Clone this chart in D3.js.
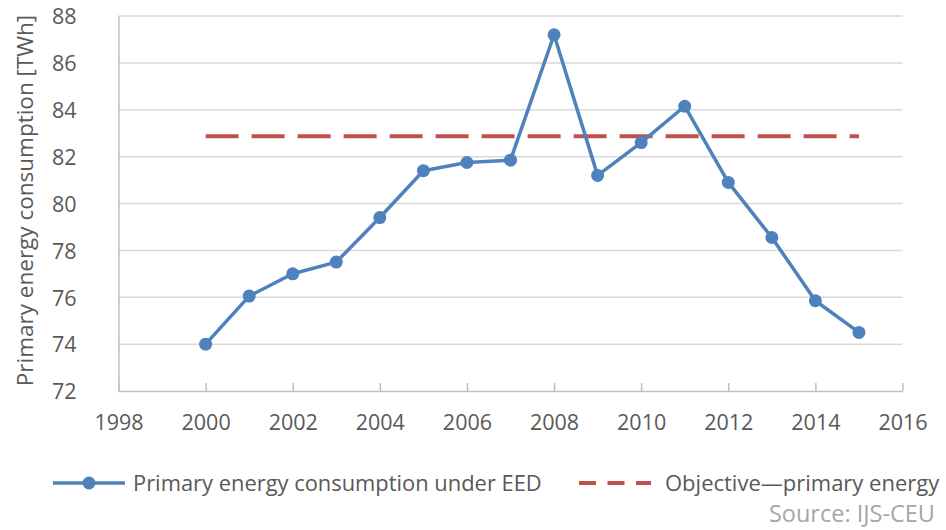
<!DOCTYPE html>
<html>
<head>
<meta charset="utf-8">
<script src="https://cdn.jsdelivr.net/npm/d3@7/dist/d3.min.js"></script>
<style>
  html, body { margin: 0; padding: 0; background: #fff; }
  svg { display: block; font-family: "Open Sans", sans-serif; }
</style>
</head>
<body>
<svg id="chart" width="946" height="530"></svg>
<script>
// Primary energy consumption (TWh) by year
const years = [2000, 2001, 2002, 2003, 2004, 2005, 2006, 2007, 2008, 2009, 2010, 2011, 2012, 2013, 2014, 2015];
const consumption = [74.0, 76.05, 77.0, 77.5, 79.4, 81.4, 81.75, 81.85, 87.2, 81.2, 82.6, 84.15, 80.9, 78.55, 75.85, 74.5];
// Target level for primary energy
const objectiveYears = [2000, 2015];
const objectiveValue = 82.87;

const xTicks = [1998, 2000, 2002, 2004, 2006, 2008, 2010, 2012, 2014, 2016];
const yTicks = [72, 74, 76, 78, 80, 82, 84, 86, 88];

const seriesLabel = "Primary energy consumption under EED";
const objectiveLabel = "Objective\u2014primary energy";
const yTitle = "Primary energy consumption [TWh]";
const sourceText = "Source: IJS-CEU";

const blue = "#4F81BD", red = "#C0504D", textCol = "#595959", gridCol = "#D9D9D9", axisCol = "#BFBFBF";

const svg = d3.select("#chart");
const margin = { left: 118.5, right: 946 - 902.5, top: 16, bottom: 530 - 391 };
const x = d3.scaleLinear().domain([1998, 2016]).range([margin.left, 946 - margin.right]);
const y = d3.scaleLinear().domain([72, 88]).range([530 - margin.bottom, margin.top]);

// horizontal gridlines
svg.append("g").selectAll("line").data(yTicks.filter(d => d > 72)).join("line")
  .attr("x1", x(1998)).attr("x2", x(2016))
  .attr("y1", d => y(d)).attr("y2", d => y(d))
  .attr("stroke", gridCol).attr("stroke-width", 1.5);

// y axis
const yAxis = svg.append("g").attr("transform", `translate(${x(1998)},0)`)
  .call(d3.axisLeft(y).tickValues(yTicks).tickSize(0).tickPadding(42));
yAxis.select(".domain").attr("stroke", axisCol).attr("stroke-width", 1.5);
yAxis.selectAll("text").attr("fill", textCol).style("font-size", "21.5px")
  .style("font-family", "'Open Sans', sans-serif").attr("dy", "0.36em");

// x axis (ticks point up into plot)
const xAxis = svg.append("g").attr("transform", `translate(0,${y(72)})`)
  .call(d3.axisBottom(x).tickValues(xTicks).tickFormat(d3.format("d")).tickSizeInner(-8).tickSizeOuter(0).tickPadding(24));
xAxis.select(".domain").attr("stroke", axisCol).attr("stroke-width", 1.5);
xAxis.selectAll(".tick line").attr("stroke", axisCol).attr("stroke-width", 1.5);
xAxis.selectAll("text").attr("fill", textCol).style("font-size", "21.5px")
  .style("font-family", "'Open Sans', sans-serif");

// y axis title
svg.append("text")
  .attr("transform", `translate(33,${(y(72) + y(88)) / 2 - 3}) rotate(-90)`)
  .attr("text-anchor", "middle").attr("fill", textCol).style("font-size", "22.5px")
  .text(yTitle);

// objective dashed line
svg.append("line")
  .attr("x1", x(objectiveYears[0])).attr("x2", x(objectiveYears[1]))
  .attr("y1", y(objectiveValue)).attr("y2", y(objectiveValue))
  .attr("stroke", red).attr("stroke-width", 4).attr("stroke-dasharray", "33,13");

// consumption line
const data = years.map((yr, i) => ({ yr, v: consumption[i] }));
svg.append("path").datum(data)
  .attr("fill", "none").attr("stroke", blue).attr("stroke-width", 3.5)
  .attr("stroke-linejoin", "round")
  .attr("d", d3.line().x(d => x(d.yr)).y(d => y(d.v)));
svg.append("g").selectAll("circle").data(data).join("circle")
  .attr("cx", d => x(d.yr)).attr("cy", d => y(d.v)).attr("r", 6.5).attr("fill", blue);

// legend
const ly = 483;
svg.append("line").attr("x1", 53).attr("x2", 125).attr("y1", ly).attr("y2", ly)
  .attr("stroke", blue).attr("stroke-width", 3.5);
svg.append("circle").attr("cx", 89).attr("cy", ly).attr("r", 6.5).attr("fill", blue);
svg.append("text").attr("x", 133).attr("y", ly).attr("dy", "0.35em")
  .attr("fill", textCol).style("font-size", "21.9px").text(seriesLabel);

svg.append("line").attr("x1", 579).attr("x2", 651).attr("y1", ly).attr("y2", ly)
  .attr("stroke", red).attr("stroke-width", 4).attr("stroke-dasharray", "17,11.5");
svg.append("text").attr("x", 665).attr("y", ly).attr("dy", "0.35em")
  .attr("fill", textCol).style("font-size", "22px").text(objectiveLabel);

// source note
svg.append("text").attr("x", 935).attr("y", 522).attr("text-anchor", "end")
  .attr("fill", "#A6A6A6").style("font-size", "23.5px").text(sourceText);
</script>
</body>
</html>
